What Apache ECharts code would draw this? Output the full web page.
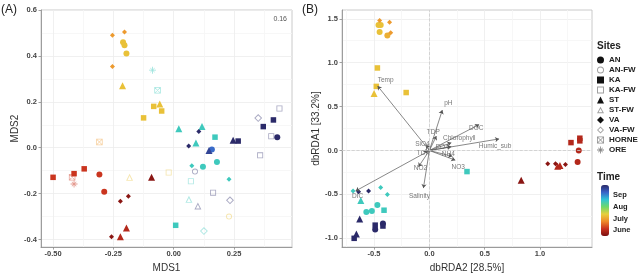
<!DOCTYPE html>
<html>
<head>
<meta charset="utf-8">
<script src="https://cdn.jsdelivr.net/npm/echarts@6/dist/echarts.min.js"></script>
<style>
  html, body { margin: 0; padding: 0; background: #fff; }
  #chart { width: 642px; height: 278px; }
</style>
</head>
<body>
<div id="chart"></div>
<script>
// sites in legend order
var sites = ['AN', 'AN-FW', 'KA', 'KA-FW', 'ST', 'ST-FW', 'VA', 'VA-FW', 'HORNE', 'ORE'];

// panel A, NMDS: [site, MDS1, MDS2, sampling day of year]
var nmdsPoints = [
  ['VA', -0.254, 0.490, 179], ['VA', -0.204, 0.504, 179],
  ['AN', -0.210, 0.460, 190], ['AN', -0.204, 0.446, 190], ['AN', -0.196, 0.410, 190],
  ['VA', -0.254, 0.354, 179], ['ST', -0.212, 0.270, 190],
  ['ST', -0.058, 0.190, 190], ['KA', -0.083, 0.180, 190], ['KA', -0.050, 0.160, 190], ['KA', -0.125, 0.130, 190],
  ['ORE', -0.088, 0.338, 228], ['HORNE', -0.067, 0.250, 228],
  ['HORNE', -0.308, 0.025, 179], ['HORNE', -0.421, -0.129, 156], ['ORE', -0.413, -0.158, 156],
  ['ST', 0.021, 0.083, 228], ['ST', 0.117, 0.092, 228], ['VA', 0.104, 0.071, 271],
  ['KA', 0.171, 0.046, 228], ['ST', 0.092, 0.021, 228], ['VA', 0.062, 0.008, 271],
  ['ST', 0.146, -0.012, 262], ['AN', 0.158, -0.008, 250],
  ['ST', 0.246, 0.033, 271], ['KA', 0.267, 0.029, 271],
  ['VA-FW', 0.350, 0.129, 271], ['KA', 0.413, 0.121, 271], ['KA', 0.371, 0.092, 271],
  ['AN', 0.429, 0.046, 271], ['KA-FW', 0.404, 0.050, 271], ['KA-FW', 0.438, 0.171, 271],
  ['KA-FW', 0.358, -0.033, 271],
  ['VA', 0.075, -0.079, 228], ['AN', 0.121, -0.083, 228], ['AN', 0.179, -0.062, 228],
  ['AN-FW', 0.088, -0.104, 271], ['KA-FW', 0.071, -0.146, 228], ['VA', 0.229, -0.137, 228],
  ['KA-FW', 0.163, -0.196, 271], ['VA-FW', 0.233, -0.229, 271],
  ['ST-FW', 0.063, -0.225, 228], ['ST-FW', 0.100, -0.254, 271],
  ['AN-FW', 0.229, -0.300, 190], ['KA', 0.008, -0.338, 228], ['VA-FW', 0.125, -0.363, 228],
  ['KA-FW', -0.021, -0.108, 190], ['ST-FW', -0.183, -0.129, 190],
  ['KA', -0.500, -0.129, 156], ['KA', -0.413, -0.113, 156], ['KA', -0.371, -0.092, 156],
  ['AN', -0.308, -0.117, 156], ['AN', -0.288, -0.192, 156],
  ['VA', -0.188, -0.212, 140], ['VA', -0.221, -0.233, 140], ['VA', -0.258, -0.388, 140],
  ['ST', -0.221, -0.388, 150], ['ST', -0.196, -0.350, 150], ['ST', -0.092, -0.129, 140]
];

// panel B, dbRDA: [site, dbRDA2, dbRDA1, sampling day of year]
var rdaPoints = [
  ['VA', -0.45, 1.48, 179], ['AN', -0.46, 1.43, 190], ['AN', -0.44, 1.43, 190],
  ['VA', -0.36, 1.46, 179], ['AN', -0.45, 1.35, 190], ['AN', -0.38, 1.31, 185],
  ['VA', -0.35, 1.34, 179], ['KA', -0.47, 0.94, 190], ['KA', -0.48, 0.73, 190],
  ['ST', -0.50, 0.65, 190], ['KA', -0.21, 0.66, 190],
  ['KA', 0.34, -0.24, 228],
  ['VA', -0.69, -0.46, 228], ['VA', -0.64, -0.47, 271], ['VA', -0.55, -0.46, 271],
  ['VA', -0.44, -0.42, 228], ['VA', -0.38, -0.50, 228], ['ST', -0.62, -0.57, 228],
  ['AN', -0.57, -0.70, 228], ['AN', -0.52, -0.69, 228], ['AN', -0.47, -0.62, 228],
  ['KA', -0.41, -0.68, 228], ['ST', -0.63, -0.78, 271], ['KA', -0.49, -0.85, 271],
  ['AN', -0.49, -0.90, 271], ['AN', -0.42, -0.83, 271], ['KA', -0.42, -0.86, 271],
  ['ST', -0.66, -0.95, 271], ['KA', -0.68, -1.00, 271],
  ['KA', 1.28, 0.09, 150], ['KA', 1.36, 0.14, 150], ['KA', 1.36, 0.11, 150],
  ['AN', 1.35, 0.00, 150], ['AN', 1.34, -0.13, 150],
  ['VA', 1.07, -0.15, 140], ['VA', 1.14, -0.15, 140], ['VA', 1.23, -0.16, 140],
  ['ST', 1.16, -0.18, 150], ['ST', 1.18, -0.17, 150], ['ST', 0.83, -0.34, 140]
];

// environmental vectors (panel B)
var envVars = ['Temp', 'pH', 'DOC', 'Humic_sub', 'Chlorophyll', 'TDP', 'SiO4', 'PO4', 'TDN', 'NH4', 'NO3', 'NO2', 'Salinity', 'DIC'];
var envX = [-0.468, 0.117, 0.45, 0.63, 0.198, 0.063, -0.027, 0.198, -0.054, 0.207, 0.234, -0.099, -0.054, -0.667];
var envY = [0.735, 0.461, 0.296, 0.132, 0.088, 0.164, 0.066, 0.044, -0.011, -0.066, -0.110, -0.186, -0.428, -0.461];

// ticks
var mdsXTicks = [-0.5, -0.25, 0, 0.25];
var mdsYTicks = [-0.4, -0.2, 0, 0.2, 0.4, 0.6];
var rdaXTicks = [-0.5, 0, 0.5, 1];
var rdaYTicks = [-1, -0.5, 0, 0.5, 1, 1.5];
var monthNames = ['June', 'July', 'Aug', 'Sep'];
var monthDays = [152, 182, 213, 244];
var stressValue = '0.16';

// label nudges for vector names, in px
var labelNudge = [[8, -6], [6, -7], [-3, 4], [-4, 7], [8, -5], [-3, -4], [-4, -1], [-9, 1], [0, 2], [-4, -2], [3, 7], [2, 1], [-4, 8], [2, 5]];

var dayMin = 136, dayMax = 271;
var timeColors = ['#7a0f10', '#c9321f', '#ef8a2a', '#e8cf3c', '#6fd86a', '#30c4d6', '#3a62c8', '#2b2a69'];

var FONT = '"Liberation Sans", Arial, sans-serif';

// ggplot-like shapes; open ones are rings so the line stays thin
var shapes = {
  'AN':    { symbol: 'circle', size: 6 },
  'AN-FW': { symbol: 'path://M5,0A5,5,0,1,1,5,10A5,5,0,1,1,5,0ZM5,1.4A3.6,3.6,0,1,0,5,8.6A3.6,3.6,0,1,0,5,1.4Z', size: 6, alpha: 0.4 },
  'KA':    { symbol: 'rect', size: 5.5 },
  'KA-FW': { symbol: 'path://M0,0H10V10H0ZM1.4,1.4V8.6H8.6V1.4Z', size: 6, alpha: 0.4 },
  'ST':    { symbol: 'triangle', size: 7 },
  'ST-FW': { symbol: 'path://M5,0L10,9H0ZM5,2.6L2.2,7.8H7.8Z', size: 7, alpha: 0.4 },
  'VA':    { symbol: 'diamond', size: 5 },
  'VA-FW': { symbol: 'path://M5,0L10,5L5,10L0,5ZM5,1.7L1.7,5L5,8.3L8.3,5Z', size: 8, alpha: 0.4 },
  'HORNE': { symbol: 'path://M0,0H10V10H0ZM1.2,1.2V8.8H8.8V1.2ZM0,0.7L0.7,0L10,9.3L9.3,10ZM9.3,0L10,0.7L0.7,10L0,9.3Z', size: 6.5, alpha: 0.45 },
  'ORE':   { symbol: 'path://M4.4,0H5.6V10H4.4ZM0,4.4H10V5.6H0ZM1.5,2.1L2.1,1.5L8.5,7.9L7.9,8.5ZM7.9,1.5L8.5,2.1L2.1,8.5L1.5,7.9Z', size: 7, alpha: 0.5 }
};

function minorOf(ticks, min, max) {
  var step = ticks[1] - ticks[0], out = [];
  for (var v = ticks[0] - step / 2; v <= max; v += step) {
    if (v >= min) out.push(+v.toFixed(4));
  }
  return out;
}

function mainAxis(kind, grid, min, max, ticks, dec, name, gap) {
  return {
    type: 'value', gridIndex: grid, min: min, max: max,
    position: kind === 'x' ? 'bottom' : 'left',
    name: name, nameLocation: 'middle', nameGap: gap,
    nameTextStyle: { fontSize: 10, color: '#333', fontFamily: FONT },
    axisLine: { show: true, onZero: false, lineStyle: { color: '#8a8a8a', width: 0.8 } },
    axisTick: { show: true, length: 2.5, customValues: ticks, lineStyle: { color: '#8a8a8a', width: 0.8 } },
    axisLabel: {
      customValues: ticks, margin: kind === 'x' ? 3 : 4,
      formatter: function (v) { return (+v).toFixed(dec); },
      fontSize: 7.5, fontWeight: 'bold', color: '#444', fontFamily: FONT
    },
    splitLine: { show: true, lineStyle: { color: '#ececec', width: 0.8 } }
  };
}

function minorAxis(kind, grid, min, max, ticks) {
  var m = minorOf(ticks, min, max);
  return {
    type: 'value', gridIndex: grid, min: min, max: max,
    position: kind === 'x' ? 'top' : 'right',
    axisLine: { show: false }, axisTick: { show: false, customValues: m },
    axisLabel: { show: false, customValues: m },
    splitLine: { show: true, lineStyle: { color: '#f5f5f5', width: 0.8 } }
  };
}

function siteSeries(rows, site, ax) {
  var s = shapes[site];
  return {
    type: 'scatter', name: site, xAxisIndex: ax, yAxisIndex: ax,
    symbol: s.symbol, symbolSize: s.size, silent: true,
    itemStyle: { color: '#111', opacity: s.alpha || 1 },
    data: rows.filter(function (r) { return r[0] === site; })
              .map(function (r) { return [r[1], r[2], r[3]]; })
  };
}

var series = [];
sites.forEach(function (s) { series.push(siteSeries(nmdsPoints, s, 0)); });
sites.forEach(function (s) {
  var ser = siteSeries(rdaPoints, s, 2);
  if (ser.data.length) series.push(ser);
});
var pointSeries = series.map(function (s, i) { return i; });

// arrows
series.push({
  type: 'lines', coordinateSystem: 'cartesian2d', xAxisIndex: 2, yAxisIndex: 2,
  symbol: ['none', 'arrow'], symbolSize: 4, silent: true, z: 3,
  lineStyle: { color: '#555', width: 0.7, opacity: 1 },
  data: envVars.map(function (n, i) { return { coords: [[0, 0], [envX[i], envY[i]]] }; })
});
// vector names and zero lines
series.push({
  type: 'scatter', xAxisIndex: 2, yAxisIndex: 2, symbolSize: 0.1, silent: true, z: 4,
  itemStyle: { color: 'rgba(0,0,0,0)' },
  label: { show: true, position: 'inside', formatter: '{b}', fontSize: 6.5, color: '#555', fontFamily: FONT },
  data: envVars.map(function (n, i) {
    return { name: n, value: [envX[i], envY[i]], label: { offset: labelNudge[i] } };
  }),
  markLine: {
    silent: true, symbol: 'none', label: { show: false },
    lineStyle: { color: '#cccccc', type: 'dashed', width: 0.8 },
    data: [{ xAxis: 0 }, { yAxis: 0 }]
  }
});

var barTop = 185, barH = 51;
var graphics = [
  { type: 'text', x: 1, y: 10, style: { text: '(A)', fill: '#222', font: '12px ' + FONT, textVerticalAlign: 'middle' } },
  { type: 'text', x: 302, y: 10, style: { text: '(B)', fill: '#222', font: '12px ' + FONT, textVerticalAlign: 'middle' } },
  { type: 'text', x: 287, y: 19, style: { text: stressValue, fill: '#555', font: '7px ' + FONT, textAlign: 'right', textVerticalAlign: 'middle' } },
  { type: 'text', x: 597, y: 46, style: { text: 'Sites', fill: '#222', font: 'bold 10px ' + FONT, textVerticalAlign: 'middle' } },
  { type: 'text', x: 597, y: 177, style: { text: 'Time', fill: '#222', font: 'bold 10px ' + FONT, textVerticalAlign: 'middle' } }
];
monthNames.forEach(function (m, i) {
  var y = barTop + (1 - (monthDays[i] - dayMin) / (dayMax - dayMin)) * barH;
  graphics.push({ type: 'text', x: 613, y: y, style: { text: m, fill: '#222', font: 'bold 7.5px ' + FONT, textVerticalAlign: 'middle' } });
});

var chart = echarts.init(document.getElementById('chart'));
chart.setOption({
  animation: false,
  grid: [
    { left: 41, top: 10, width: 251, height: 247, show: true, borderColor: '#bdbdbd', borderWidth: 0.8, backgroundColor: '#fff' },
    { left: 342, top: 10, width: 250, height: 246, show: true, borderColor: '#bdbdbd', borderWidth: 0.8, backgroundColor: '#fff' }
  ],
  xAxis: [
    mainAxis('x', 0, -0.55, 0.49, mdsXTicks, 2, 'MDS1', 9),
    minorAxis('x', 0, -0.55, 0.49, mdsXTicks),
    mainAxis('x', 1, -0.79, 1.47, rdaXTicks, 1, 'dbRDA2 [28.5%]', 9),
    minorAxis('x', 1, -0.79, 1.47, rdaXTicks)
  ],
  yAxis: [
    mainAxis('y', 0, -0.433, 0.6, mdsYTicks, 1, 'MDS2', 20),
    minorAxis('y', 0, -0.433, 0.6, mdsYTicks),
    mainAxis('y', 1, -1.1, 1.6, rdaYTicks, 1, 'dbRDA1 [33.2%]', 18),
    minorAxis('y', 1, -1.1, 1.6, rdaYTicks)
  ],
  legend: {
    data: sites, orient: 'vertical', left: 597, top: 56, padding: 0,
    itemWidth: 7, itemHeight: 7, itemGap: 2, selectedMode: false,
    textStyle: { fontSize: 8, fontWeight: 'bold', color: '#222', fontFamily: FONT }
  },
  visualMap: {
    type: 'continuous', min: dayMin, max: dayMax, dimension: 2,
    seriesIndex: pointSeries, inRange: { color: timeColors },
    left: 601, top: barTop, itemWidth: 8, itemHeight: barH, padding: 0,
    text: null, calculable: false, hoverLink: false
  },
  graphic: graphics,
  series: series
});
</script>
</body>
</html>
